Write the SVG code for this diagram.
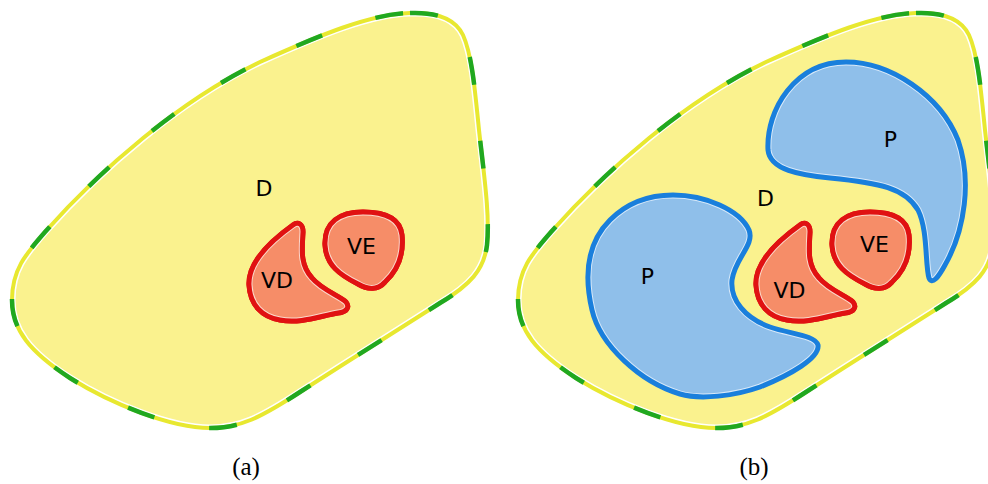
<svg xmlns="http://www.w3.org/2000/svg" xmlns:xlink="http://www.w3.org/1999/xlink" width="988" height="484" viewBox="0 0 988 484">
<style>
.lbl{font-family:"DejaVu Sans",sans-serif;font-size:22px;fill:#000;text-anchor:middle}
.cap{font-family:"Liberation Serif",serif;font-size:25px;fill:#000;text-anchor:middle}
.outer-fill{fill:#faf28e;stroke:#ffffff;stroke-width:7}
.outer-line{fill:none;stroke:#e8e830;stroke-width:4}
.outer-dash{fill:none;stroke:#20a820;stroke-width:4.5;stroke-dasharray:28 56}
.halo{fill:none;stroke:#fbd9cb;stroke-width:7}
.halo-b{fill:none;stroke:#d8e9f9;stroke-width:7}
.red{fill:#f68d68;stroke:#e01212;stroke-width:5}
.red-line{fill:none;stroke:#e01212;stroke-width:5}
.blue{fill:#8fbfea}
.blue-line{fill:none;stroke:#1a7fdc;stroke-width:5}
</style>
<defs>
<path id="pOuter" d="M 410,13 C 435,12 455,18 463,35 C 472,55 475,90 479,130 C 484,175 490,215 487,245 C 484,270 470,285 440,303 C 410,322 350,360 300,392 C 260,418 240,428 210,428 C 170,428 110,403 70,378 C 30,352 12,330 12,300 C 12,270 25,255 45,232 C 100,170 180,100 260,62 C 320,35 370,14 410,13 Z"/>
<path id="pVD" d="M 293,225 C 298,221 303,224 303,232 C 302,250 300,265 312,278 C 322,290 340,296 346,302 C 350,307 347,312 338,313 C 320,316 300,324 280,320 C 262,317 250,305 249,285 C 248,265 265,245 293,225 Z"/>
<path id="pVE" d="M 363,212 C 385,212 400,218 402,235 C 404,255 398,270 385,282 C 378,290 368,290 358,284 C 340,275 326,265 325,245 C 324,222 340,212 363,212 Z"/>
<path id="pP1" d="M 846,62 C 890,62 940,95 958,140 C 972,180 965,230 945,265 C 938,278 932,285 929,278 C 925,265 928,230 918,210 C 905,188 880,183 830,178 C 800,175 770,170 768,150 C 766,110 795,62 846,62 Z"/>
<path id="pP2" d="M 673,195 C 705,195 740,210 749,230 C 755,245 735,258 732,280 C 730,300 745,318 770,327 C 790,334 815,335 818,345 C 820,358 790,375 760,387 C 735,396 700,400 680,394 C 640,382 600,345 592,310 C 585,280 585,245 610,220 C 625,205 645,195 673,195 Z"/>
<clipPath id="cVD"><use href="#pVD"/></clipPath>
<clipPath id="cVE"><use href="#pVE"/></clipPath>
<clipPath id="cP1"><use href="#pP1"/></clipPath>
<clipPath id="cP2"><use href="#pP2"/></clipPath>
</defs>

<g id="panel-a">
  <g id="a-D">
    <use href="#pOuter" class="outer-fill"/>
    <use href="#pOuter" class="outer-line"/>
    <use href="#pOuter" class="outer-dash"/>
    <text class="lbl" x="264" y="196">D</text>
  </g>
  <g id="a-VD">
    <use href="#pVD" class="red"/>
    <use href="#pVD" class="halo" clip-path="url(#cVD)"/>
    <use href="#pVD" class="red-line"/>
    <text class="lbl" x="277" y="288">VD</text>
  </g>
  <g id="a-VE">
    <use href="#pVE" class="red"/>
    <use href="#pVE" class="halo" clip-path="url(#cVE)"/>
    <use href="#pVE" class="red-line"/>
    <text class="lbl" x="361.5" y="254">VE</text>
  </g>
  <text id="cap-a" class="cap" x="246" y="475">(a)</text>
</g>

<g id="panel-b">
  <g id="b-D" transform="translate(506,0)">
    <use href="#pOuter" class="outer-fill"/>
    <use href="#pOuter" class="outer-line"/>
    <use href="#pOuter" class="outer-dash"/>
  </g>
  <text class="lbl" x="765.5" y="206">D</text>
  <g id="b-P1">
    <use href="#pP1" class="blue"/>
    <use href="#pP1" class="halo-b" clip-path="url(#cP1)"/>
    <use href="#pP1" class="blue-line"/>
    <text class="lbl" x="890.5" y="147">P</text>
  </g>
  <g id="b-P2">
    <use href="#pP2" class="blue"/>
    <use href="#pP2" class="halo-b" clip-path="url(#cP2)"/>
    <use href="#pP2" class="blue-line"/>
    <text class="lbl" x="647.5" y="284">P</text>
  </g>
  <g id="b-VD" transform="translate(507,0)">
    <use href="#pVD" class="red"/>
    <use href="#pVD" class="halo" clip-path="url(#cVD)"/>
    <use href="#pVD" class="red-line"/>
  </g>
  <text class="lbl" x="789.5" y="298">VD</text>
  <g id="b-VE" transform="translate(507,0)">
    <use href="#pVE" class="red"/>
    <use href="#pVE" class="halo" clip-path="url(#cVE)"/>
    <use href="#pVE" class="red-line"/>
  </g>
  <text class="lbl" x="874.5" y="252">VE</text>
  <text id="cap-b" class="cap" x="754" y="475">(b)</text>
</g>
</svg>
